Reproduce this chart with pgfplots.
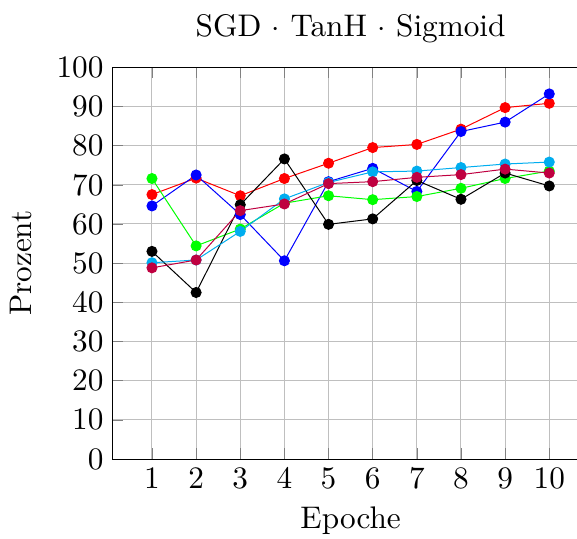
\documentclass[border=0pt]{standalone}
\usepackage{fontspec}
\usepackage{pgfplots}
\pgfplotsset{compat=1.18}
\newfontfamily\lmx{lmroman10-regular.otf}
\newcommand\chartfont{\lmx\fontsize{12.5}{15}\selectfont}

\begin{document}
\begin{tikzpicture}
\begin{axis}[
  scale only axis,
  width=190.7pt, height=156.7pt,
  xmin=0.1, xmax=10.9,
  ymin=0, ymax=100,
  xtick={1,...,10},
  ytick={0,10,...,100},
  grid=major,
  /pgf/number format/assume math mode=true,
  tick label style={font=\chartfont},
  label style={font=\chartfont},
  ylabel style={yshift=3pt},
  title style={font=\chartfont},
  title={SGD $\cdot$ TanH $\cdot$ Sigmoid},
  xlabel={Epoche},
  ylabel={Prozent},
  every axis plot/.append style={mark=*, line width=0.4pt},
]
\coordinate (sw) at (rel axis cs:0,0);
\addplot[red, mark options={fill=red}] coordinates {
  (1,67.5) (2,71.7) (3,67.2) (4,71.6) (5,75.5) (6,79.5) (7,80.3) (8,84.2) (9,89.7) (10,90.8)};
\addplot[blue, mark options={fill=blue}] coordinates {
  (1,64.6) (2,72.5) (3,62.4) (4,50.6) (5,70.8) (6,74.2) (7,68.3) (8,83.6) (9,86.0) (10,93.2)};
\addplot[green, mark options={fill=green}] coordinates {
  (1,71.6) (2,54.4) (3,58.7) (4,65.3) (5,67.2) (6,66.2) (7,67.0) (8,69.1) (9,71.6) (10,73.5)};
\addplot[black, mark options={fill=black}] coordinates {
  (1,53.0) (2,42.5) (3,64.9) (4,76.6) (5,59.9) (6,61.3) (7,71.1) (8,66.3) (9,73.0) (10,69.7)};
\addplot[cyan, mark options={fill=cyan}] coordinates {
  (1,50.1) (2,50.8) (3,58.1) (4,66.4) (5,70.6) (6,73.3) (7,73.5) (8,74.4) (9,75.3) (10,75.8)};
\addplot[purple, mark options={fill=purple}] coordinates {
  (1,48.8) (2,50.8) (3,63.4) (4,65.1) (5,70.3) (6,70.8) (7,71.9) (8,72.6) (9,74.0) (10,73.0)};
\end{axis}
% frame of the page: the right border of the axis falls just outside it
\pgfresetboundingbox
\useasboundingbox ([shift={(-44.9pt,-31.6pt)}]sw) rectangle ([shift={(185.9pt,183.6pt)}]sw);
\end{tikzpicture}
\end{document}
